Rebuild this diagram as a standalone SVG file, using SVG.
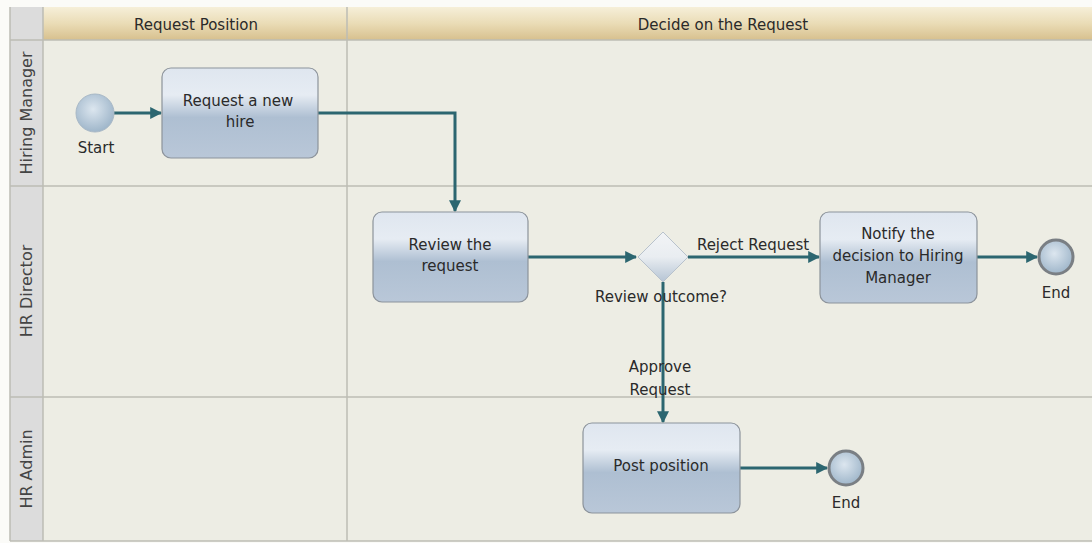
<svg xmlns="http://www.w3.org/2000/svg" width="1092" height="543" viewBox="0 0 1092 543">
<defs>
<linearGradient id="hdr" x1="0" y1="0" x2="0" y2="1">
<stop offset="0" stop-color="#f6efd9"/>
<stop offset="0.5" stop-color="#eadcb6"/>
<stop offset="1" stop-color="#d7c08e"/>
</linearGradient>
<linearGradient id="task" x1="0" y1="0" x2="0" y2="1">
<stop offset="0" stop-color="#dfe6ef"/>
<stop offset="0.3" stop-color="#e6ecf3"/>
<stop offset="0.55" stop-color="#aebfd2"/>
<stop offset="1" stop-color="#b9c7d8"/>
</linearGradient>
<linearGradient id="gw" x1="0" y1="0" x2="0" y2="1">
<stop offset="0" stop-color="#f2f4f6"/>
<stop offset="0.5" stop-color="#e9edf1"/>
<stop offset="1" stop-color="#b5c4d4"/>
</linearGradient>
<radialGradient id="ev" cx="0.45" cy="0.4" r="0.6">
<stop offset="0" stop-color="#dce6ef"/>
<stop offset="1" stop-color="#9fb6ca"/>
</radialGradient>
<marker id="arr" viewBox="0 0 10 10" refX="9" refY="5" markerWidth="4" markerHeight="4" orient="auto" markerUnits="strokeWidth">
<path d="M0,0 L10,5 L0,10 z" fill="#2c6670"/>
</marker>
<style>
.t{font-family:"DejaVu Sans",Verdana,sans-serif;font-size:15px;fill:#2a2a2a;text-anchor:middle}
.lane{font-family:"DejaVu Sans",Verdana,sans-serif;font-size:16px;fill:#444;text-anchor:middle}
.task{fill:url(#task);stroke:#8c939b;stroke-width:1.2}
.conn{fill:none;stroke:#2c6670;stroke-width:3;marker-end:url(#arr)}
.grid{stroke:#bdbdb5;stroke-width:1.5;fill:none}
</style>
</defs>
<rect x="0" y="0" width="1092" height="543" fill="#fbfbf8"/>
<rect x="43" y="40" width="1049" height="501" fill="#ededE4"/>
<rect x="10" y="7" width="33" height="534" fill="#dcdcdc"/>
<rect x="43" y="7" width="1049" height="33" fill="url(#hdr)"/>
<g id="grid">
<line class="grid" x1="10" y1="40" x2="1092" y2="40"/>
<line class="grid" x1="10" y1="186" x2="1092" y2="186"/>
<line class="grid" x1="10" y1="397" x2="1092" y2="397"/>
<line class="grid" x1="10" y1="541" x2="1092" y2="541"/>
<line class="grid" x1="10" y1="7" x2="10" y2="541"/>
<line class="grid" x1="43" y1="7" x2="43" y2="541"/>
<line class="grid" x1="347" y1="7" x2="347" y2="541"/>
</g>
<g id="headers">
<text class="t" x="196" y="30">Request Position</text>
<text class="t" x="723" y="30">Decide on the Request</text>
</g>
<g id="lanes">
<text class="lane" transform="translate(32,113) rotate(-90)">Hiring Manager</text>
<text class="lane" transform="translate(32,291) rotate(-90)">HR Director</text>
<text class="lane" transform="translate(32,469) rotate(-90)">HR Admin</text>
</g>
<g id="connectors">
<line class="conn" x1="114" y1="113" x2="161" y2="113"/>
<polyline class="conn" points="318,113 455,113 455,211"/>
<line class="conn" x1="528" y1="257" x2="636" y2="257"/>
<line class="conn" x1="688" y1="257" x2="819" y2="257"/>
<line class="conn" x1="663" y1="282" x2="663" y2="422"/>
<line class="conn" x1="977" y1="257" x2="1037" y2="257"/>
<line class="conn" x1="740" y1="468" x2="827" y2="468"/>
<text class="t" x="753" y="250">Reject Request</text>
<text class="t" x="660" y="372">Approve</text>
<text class="t" x="660" y="395">Request</text>
</g>
<g id="start">
<circle cx="95" cy="113" r="19" fill="url(#ev)" stroke="#a8b8c6" stroke-width="1"/>
<text class="t" x="96" y="153">Start</text>
</g>
<g id="request-hire">
<rect class="task" x="162" y="68" width="156" height="90" rx="9"/>
<text class="t" x="238" y="106">Request a new</text>
<text class="t" x="240" y="127">hire</text>
</g>
<g id="review">
<rect class="task" x="373" y="212" width="155" height="90" rx="9"/>
<text class="t" x="450" y="250">Review the</text>
<text class="t" x="450" y="271">request</text>
</g>
<g id="gateway">
<polygon points="663,232 688,257 663,282 638,257" fill="url(#gw)" stroke="#b8c2cc" stroke-width="1"/>
<text class="t" x="661" y="302">Review outcome?</text>
</g>
<g id="notify">
<rect class="task" x="820" y="212" width="157" height="91" rx="9"/>
<text class="t" x="898" y="239">Notify the</text>
<text class="t" x="898" y="261">decision to Hiring</text>
<text class="t" x="898" y="283">Manager</text>
</g>
<g id="end1">
<circle cx="1056" cy="257" r="17" fill="url(#ev)" stroke="#7a7f84" stroke-width="3"/>
<text class="t" x="1056" y="298">End</text>
</g>
<g id="post">
<rect class="task" x="583" y="423" width="157" height="90" rx="9"/>
<text class="t" x="661" y="471">Post position</text>
</g>
<g id="end2">
<circle cx="846" cy="468" r="17" fill="url(#ev)" stroke="#7a7f84" stroke-width="3"/>
<text class="t" x="846" y="508">End</text>
</g>
</svg>
